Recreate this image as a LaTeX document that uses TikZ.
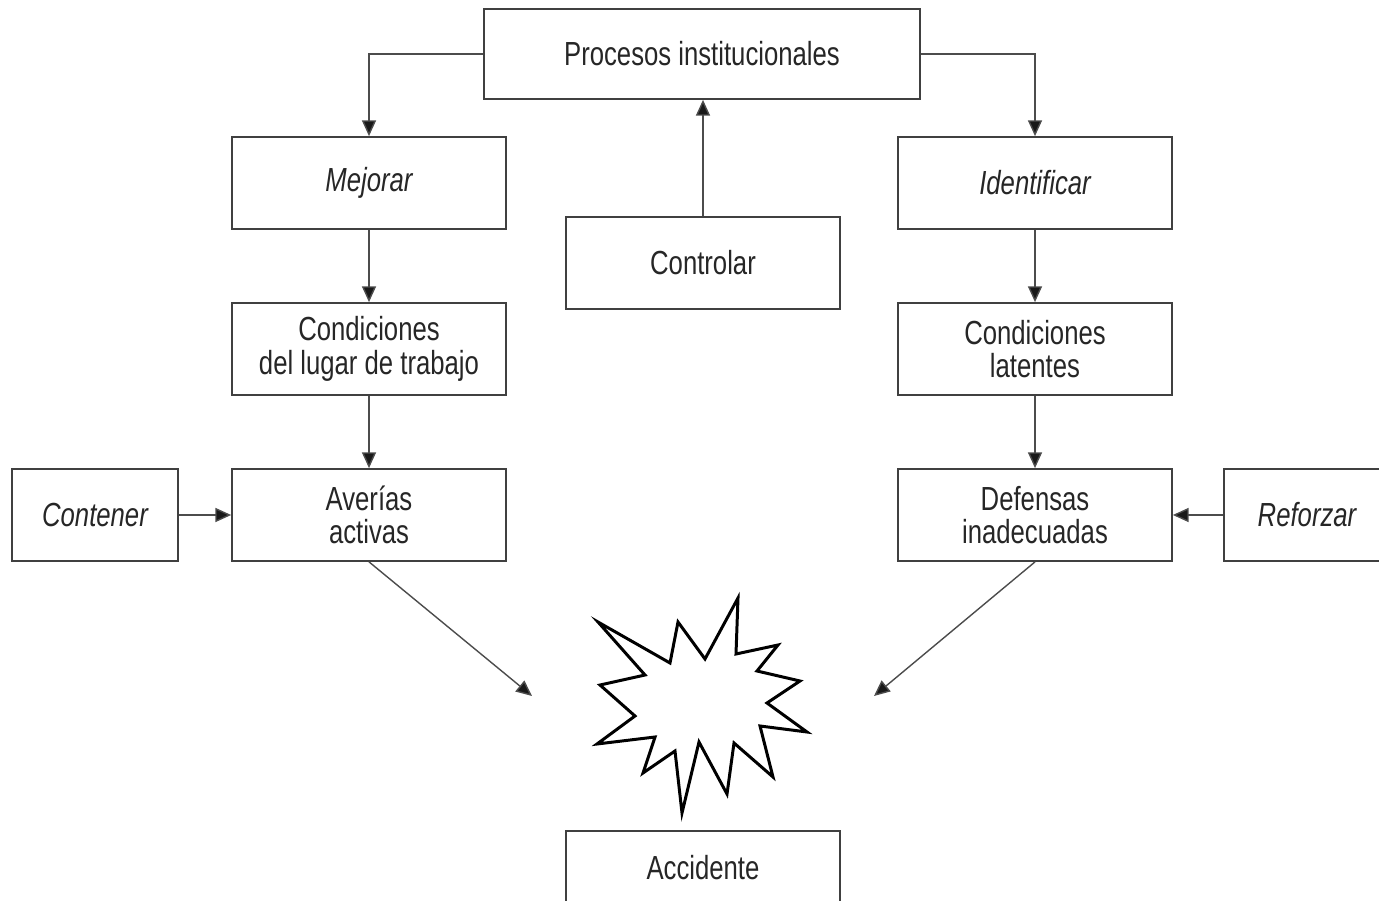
\documentclass[tikz,border=0pt]{standalone}
\usepackage{fontspec}
\setmainfont[FakeStretch=0.77]{Liberation Sans}
\usetikzlibrary{arrows.meta}

\tikzset{
  box/.style={draw=black!75,line width=1pt,minimum width=5.48cm,minimum height=1.84cm,
    align=center,inner sep=0pt,text=black!85,font=\fontsize{19}{19}\selectfont},
  conn/.style={draw=black!70,line width=.8pt,-{Triangle[length=9pt,width=8pt,fill=black!90]}}
}

\begin{document}
\begin{tikzpicture}[x=.02cm,y=-.02cm]
\clip (0,0) rectangle (1379,901);
% top row
\node[box,minimum width=8.72cm,minimum height=1.8cm] (proc) at (702,54) {Procesos institucionales};
\node[box] (mejorar) at (369,183) {\itshape Mejorar};
\node[box] (ident) at (1035,183) {\itshape Identificar};
\node[box] (ctrl) at (703,263) {Controlar};
% conditions
\node[box] (condlugar) at (369,349) {Condiciones\\del lugar de trabajo};
\node[box] (condlat) at (1035,349) {Condiciones\\latentes};
\node[box] (averias) at (369,515) {Averías\\activas};
\node[box] (defensas) at (1035,515) {Defensas\\inadecuadas};
\node[box,minimum width=3.32cm] (contener) at (95,515) {\itshape Contener};
\node[box,minimum width=3.32cm] (reforzar) at (1307,515) {\itshape Reforzar};
\node[box,minimum height=1.48cm] (accid) at (703,868) {Accidente};

\coordinate (hitl) at (532,696);
\coordinate (hitr) at (874,696);

% burst
\draw[line width=1.7pt,line join=miter,fill=white]
  (598,622)--(670,663)--(678,622)--(705,659)--(738,598)--(736,654)
  --(778,645)--(757,671)--(800,681)--(767,703)--(807,732)--(760,726)
  --(773,777)--(734,743)--(727,794)--(699,742)--(682,813)--(675,751)
  --(643,773)--(655,737)--(597,744)--(635,716)--(600,685)--(645,675)--cycle;

% connectors
\draw[conn] (proc.west) -| (mejorar.north);
\draw[conn] (proc.east) -| (ident.north);
\draw[conn] (ctrl.north) -- (ctrl.north |- proc.south);
\draw[conn] (mejorar) -- (condlugar);
\draw[conn] (condlugar) -- (averias);
\draw[conn] (ident) -- (condlat);
\draw[conn] (condlat) -- (defensas);
\draw[conn] (contener) -- (averias);
\draw[conn] (reforzar) -- (defensas);
\draw[conn] (averias.south) -- (hitl);
\draw[conn] (defensas.south) -- (hitr);
\end{tikzpicture}
\end{document}
